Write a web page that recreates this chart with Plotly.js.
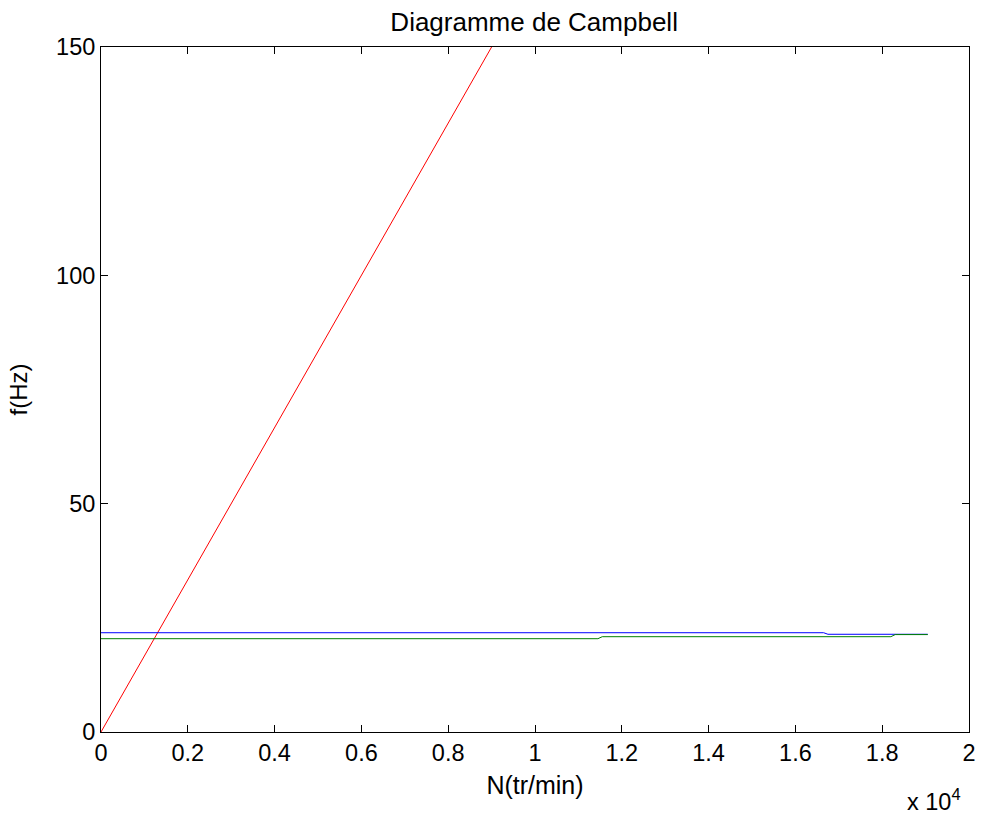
<!DOCTYPE html>
<html>
<head>
<meta charset="utf-8">
<script src="https://cdn.plot.ly/plotly-3.0.1.min.js"></script>
<style>html,body{margin:0;padding:0;background:#fff;}#chart{width:981px;height:818px;}</style>
</head>
<body>
<div id="chart"></div>
<script>
// Data (N in tr/min, f in Hz)
const redN = [0, 9000];
const redF = [0, 150];
const blueN = [0, 16650, 16750, 19050];
const blueF = [21.74, 21.74, 21.4, 21.4];
const greenN = [0, 11450, 11550, 18200, 18300, 19050];
const greenF = [20.43, 20.43, 20.87, 20.87, 21.33, 21.33];
const xTickVals = [0, 2000, 4000, 6000, 8000, 10000, 12000, 14000, 16000, 18000, 20000];
const xTickText = ['0', '0.2', '0.4', '0.6', '0.8', '1', '1.2', '1.4', '1.6', '1.8', '2'];
const yTickVals = [0, 50, 100, 150];

const fam = 'Liberation Sans, Arial, sans-serif';
function f(size) { return {family: fam, size: size, color: '#000'}; }

const traces = [
  {x: redN, y: redF, mode: 'lines', line: {color: '#ff0000', width: 1}, hoverinfo: 'skip'},
  {x: blueN, y: blueF, mode: 'lines', line: {color: '#0000ff', width: 1}, hoverinfo: 'skip'},
  {x: greenN, y: greenF, mode: 'lines', line: {color: '#008000', width: 1}, hoverinfo: 'skip'}
];

const layout = {
  width: 981, height: 818,
  margin: {l: 101, r: 12, t: 47, b: 86},
  paper_bgcolor: '#fff', plot_bgcolor: '#fff',
  showlegend: false,
  font: f(23),
  title: {text: 'Diagramme de Campbell', x: 0.5445, xanchor: 'center', y: 0.973, yanchor: 'middle', font: f(26)},
  xaxis: {
    range: [0, 20000], tickvals: xTickVals, ticktext: xTickText,
    ticks: 'inside', ticklen: 7, tickcolor: '#000', mirror: 'ticks',
    showline: true, linecolor: '#000', linewidth: 1, showgrid: false, zeroline: false,
    tickfont: f(23.5),
    title: {text: 'N(tr/min)', standoff: 11, font: f(25)}
  },
  yaxis: {
    range: [0, 150], tickvals: yTickVals,
    ticks: 'inside', ticklen: 7, tickcolor: '#000', mirror: 'ticks',
    showline: true, linecolor: '#000', linewidth: 1, showgrid: false, zeroline: false,
    tickfont: f(23.5),
    title: {text: 'f(Hz)', standoff: 21, font: f(24)}
  },
  annotations: [
    {xref: 'paper', yref: 'paper', x: 0.993, y: -0.099, xanchor: 'right', yanchor: 'middle', showarrow: false,
     text: 'x 10<sup>4</sup>', font: f(23.5)}
  ]
};

Plotly.newPlot('chart', traces, layout, {displayModeBar: false, staticPlot: true});
</script>
</body>
</html>
